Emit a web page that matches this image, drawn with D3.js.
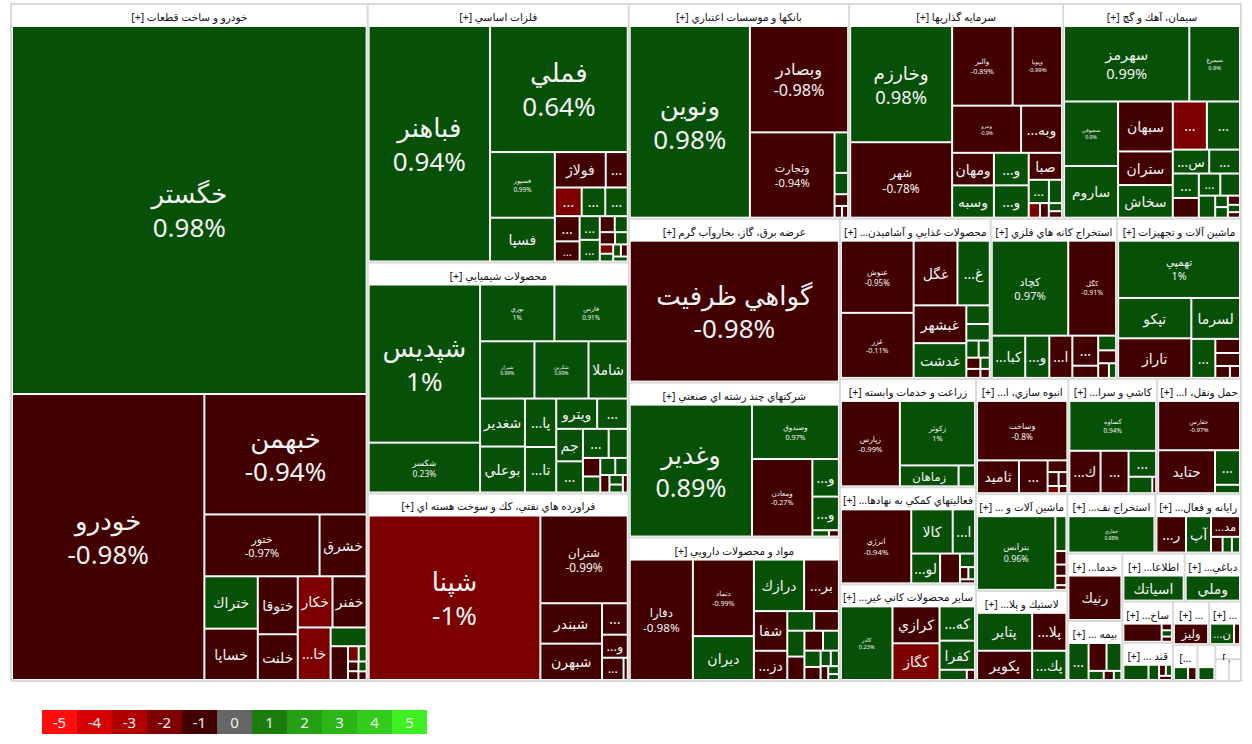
<!DOCTYPE html>
<html>
<head>
<meta charset="utf-8">
<script src="https://cdn.jsdelivr.net/npm/d3@7"></script>
<style>
  body { margin: 0; background: #fff; }
  svg { font-family: "Noto Sans", "DejaVu Sans", sans-serif; }
</style>
</head>
<body>
<svg id="chart" width="1252" height="744"></svg>
<script>
// sectors (market value, same unit for all)
const sectorNames = [
  "خودرو و ساخت قطعات", "فلزات اساسي", "محصولات شيميايي", "فراورده هاي نفتي، كك و سوخت هسته اي",
  "بانكها و موسسات اعتباري", "سرمايه گذاريها", "سيمان، آهك و گچ", "عرضه برق، گاز، بخاروآب گرم",
  "شركتهاي چند رشته اي صنعتي", "مواد و محصولات دارويي", "محصولات غذايي و آشاميدني به جز قند و شكر",
  "استخراج كانه هاي فلزي", "ماشين آلات و تجهيزات", "زراعت و خدمات وابسته",
  "فعاليتهاي كمكي به نهادهاي مالي واسط", "ساير محصولات كاني غيرفلزي", "انبوه سازي، املاك و مستغلات",
  "كاشي و سراميك", "حمل ونقل، انبارداري و ارتباطات", "ماشين آلات و دستگاههاي برقي", "لاستيك و پلاستيك",
  "استخراج نفت گاز و خدمات جنبي جز اكتشاف", "رايانه و فعاليت‌هاي وابسته به آن", "خدمات فني و مهندسي",
  "بيمه وصندوق بازنشستگي به جزتامين اجتماعي", "اطلاعات و ارتباطات", "دباغي، پرداخت چرم و ساخت انواع پاپوش",
  "ساخت محصولات فلزي", "قند و شكر", "ساير واسطه گريهاي مالي", "منسوجات", "محصولات كاغذي",
  "هتل و رستوران", "محصولات چوبي", "توليد محصولات كامپيوتري الكترونيكي ونوري", "پيمانكاري صنعتي"
];
const sectorValues = [
  241350, 67469, 60291, 48938, 47297, 45903, 38181, 34604, 32705, 30279, 24160, 20240,
  19840, 14756, 13200, 13150, 10638, 10235, 9660, 8827, 8236, 5222, 5074, 3706,
  3297, 2993, 2708, 2079, 1931, 1575, 1386, 880, 640, 360, 300, 260
];

// stocks of each sector: names, relative weight inside the sector, change %
const stockNames = [
  ["خگستر","خودرو","خبهمن","ختور","خشرق","ختراك","خساپا","ختوقا","خلنت","خكار","خفنر","خاذين","خمحركه","خريخت","خزاميا","خمهر","خپارس","خرينگ","خموتور","خفولا"],
  ["فباهنر","فملي","فسپور","فسپا","فولاژ","فخوز","فجر","فاسمين","فنورد","فلامي","فروس","فگستر","فاما","فرود","فسرب","فكاوا","فافزا","فجهان","فپنتا","فرآور","فالوم","فزر"],
  ["شپديس","شكسر","نوري","فارس","شيراز","شكربن","شاملا","شغدير","بوعلي","پارسان","تاپيكو","ويترو","شفن","جم","شپاكسا","شصدف","شبريز","شلعاب","شسينا","شتوكا","شگل","شرنگي","شپترو","شنيلا","شكلر"],
  ["شپنا","شتران","شبندر","شبهرن","شنفت","ونفت","شپاس","شرانل"],
  ["ونوين","وبصادر","وتجارت","وپست","وكار","وسينا","وخاور","وپاسار"],
  ["وخارزم","شهر","والبر","وپويا","ونيرو","وبهمن","ومهان","وسبه","وبوعلي","وتوسم","صبا","وصنا","وسخت","وآتي","وسكاب","ورنا","وكغدير"],
  ["سهرمز","سيمرغ","سصوفي","ساروم","سبهان","ستران","سخاش","سفار","سشرق","سفانو","ساربيل","سدور","سبجنو","سكرد","سغرب","سيلام","سخزر","سقاين","سمازن","سدشت","سنير"],
  ["گواهي ظرفيت"],
  ["وغدير","وصندوق","ومعادن","وتوشه","وصنعت","وشمال","وسپهر"],
  ["دفارا","دتماد","ديران","درازك","بركت","شفا","دزهراوي","داروپخش","دسينا","دلر","دجابر","دكوثر","دعبيد","دالبر","دشيمي","دكيمي","دامين","ددام","دتوليد","دپارس"],
  ["غنوش","غزر","غگل","غشاذر","غبشهر","غدشت","غمارگ","غپينو","غبهنوش","غگرجي","غشهد","غسالم","غاذر","غپاك"],
  ["كچاد","كگل","كبافق","ومعدن","اميد","كاما","كدما","كنور","كرماشا","كمنگنز","كسرا"],
  ["تهمپي","تپكو","تاراز","لسرما","تكشا","تشتاد","كمينا","لكما","تايرا"],
  ["زپارس","زكوثر","زماهان","زشريف"],
  ["انرژي","كالا","اوراق","لوتوس","اطلس","افران","اخابر","اعتماد","اسپاد"],
  ["كاذر","كرازي","كگاز","كهمدا","كفرا","كسعدي","كخاك"],
  ["وساخت","ثاميد","ثمسكن","ثشرق","ثبهساز","ثنوسا","ثعمرا","ثاصفا"],
  ["كساوه","كپارس","كحافظ","كسرام","كمرجان","كتوكا"],
  ["حفارس","حتايد","حكشتي","حپترو"],
  ["بترانس","بموتو","بشهاب","بپاس","بنيرو","بالبر"],
  ["پتاير","پكوير","پلاسك","پكرمان"],
  ["حفاري"],
  ["رتكو","آپ","مداران","سيستم","رانفور","ماهان"],
  ["رنيك"],
  ["البرز","ودانا","اتكاي","وآسيا","ومعلم","وكوثر"],
  ["اسياتك"],
  ["وملي"],
  ["فنرژي","فلوله","فجام","فاذر"],
  ["قثابت","قشكر","قنيشا","قهكمت","قمرو"],
  ["وليز"],
  ["نساجي","نمرينو"],
  ["چكارن","چفيبر"],
  ["گپارس"],
  ["چوكا","چدشت"],
  ["مرقام","تمپكو"],
  ["بكاب","خصدرا"]
];
const stockWeights = [
  [128466,54150,19234,7015,2867,2754,2700,2280,1800,1750,1720,1700,665,578,160,120,100,90,80,70],
  [27500,16700,4092,2728,1734,750,740,650,620,600,480,460,420,230,200,180,150,120,100,90,80,70],
  [16500,5200,3950,3900,2916,2900,2106,2016,1932,1419,1333,1161,868,812,780,700,520,300,260,240,200,150,120,100,80],
  [27221,7387,2400,2160,780,572,462,90],
  [22230,10088,6970,532,280,154,84,70],
  [11058,7178,4500,3675,3036,1804,1270,1260,1056,1050,840,440,286,153,120,100,80],
  [8470,3430,3120,2500,2450,1650,1600,1470,1428,780,660,570,460,425,391,323,130,120,100,80,60],
  [30000],
  [15351,4500,4450,950,850,100,60],
  [7200,4425,2537,2450,1700,1254,924,500,460,420,380,350,300,250,200,150,120,100,80,60],
  [4970,4480,2684,1980,1887,1734,414,368,200,180,150,120,100,80],
  [6900,4324,1344,966,924,738,300,250,220,150,100],
  [6264,2650,2600,1786,840,312,288,156,108],
  [4675,4500,1140,320],
  [5092,1794,966,841,580,200,100,80,60],
  [3600,1650,1640,1155,980,264,80],
  [5278,1353,924,228,150,120,80,60],
  [4080,1247,1118,675,368,60],
  [3696,2236,792,192],
  [5550,372,144,120,100,50],
  [1855,1431,1155,891],
  [2890],
  [884,748,493,150,120,105],
  [2295],
  [648,435,360,120,80,60],
  [1600],
  [1400],
  [648,64,60,50],
  [285,120,56,50,40],
  [544],
  [320,80],
  [180,108],
  [100],
  [60,40],
  [50,40],
  [40,30]
];
const stockChanges = [
  [0.98,-0.98,-0.94,-0.97,-0.9,0.9,-0.9,-0.9,-0.9,-1.2,-0.9,-1.3,0.8,-0.9,-1.1,0.6,-0.9,-0.8,0.5,-0.7],
  [0.94,0.64,0.99,0.9,-0.9,-0.9,-1.3,0.8,0.7,-0.9,-0.9,0.8,0.6,-0.5,0.4,-0.7,0.5,-1.1,0.3,0.5,-0.4,0.3],
  [1,0.23,1,0.91,0.99,0.99,0.8,0.7,0.6,0.5,0.6,0.7,0.4,0.5,0.6,0.3,0.4,-0.9,0.5,0.6,0.4,-0.8,0.5,0.3,-0.6],
  [-1,-0.99,-0.9,-0.9,-0.9,-0.9,-0.9,-0.8],
  [0.98,-0.98,-0.94,0.8,0.7,-0.9,-0.9,-0.9],
  [0.98,-0.78,-0.89,-0.99,-0.9,-0.9,-0.9,0.8,0.7,0.8,-0.9,0.7,0.6,-1.2,-0.9,0.5,-0.8],
  [0.99,0.9,0.9,0.8,-0.9,-0.9,0.8,-1.2,0.7,0.8,0.6,0.7,-0.9,0.7,0.6,0.8,0.5,0.6,-0.9,0.4,-0.8],
  [-0.98],
  [0.89,0.97,-0.27,0.8,0.7,0.6,-0.8],
  [-0.98,-0.99,0.8,0.8,-0.9,-0.9,-0.9,0.7,-0.9,0.6,-0.9,-0.8,0.7,0.5,-0.9,0.6,0.4,-0.7,0.5,0.3],
  [-0.95,-0.11,-0.97,0.8,-0.9,0.8,0.7,0.6,0.5,0.7,-0.9,-0.8,0.4,-0.6],
  [0.97,-0.91,0.8,0.7,-0.9,-0.9,-0.9,0.6,-0.8,-0.9,0.5],
  [1,0.9,-0.98,0.8,0.7,-0.9,-0.9,-0.9,-0.9],
  [-0.99,1,0.8,0.7],
  [-0.94,0.8,0.7,0.8,-0.9,0.6,-0.9,0.5,-0.8],
  [0.23,-0.9,-1.1,0.8,0.7,0.6,-0.9],
  [-0.8,-0.9,-0.9,-0.9,-0.9,-0.9,-1.2,-0.8],
  [0.94,-0.9,-0.9,0.7,0.6,-0.9],
  [-0.97,-0.9,0.8,0.7],
  [0.96,0.8,-0.9,-0.9,-0.9,-0.9],
  [0.8,-0.9,-0.9,0.7],
  [0.98],
  [-0.9,0.8,-0.9,-0.9,0.7,0.6],
  [-0.99],
  [0.8,-0.9,0.7,0.6,-0.9,0.5],
  [0.8],
  [0.8],
  [-0.9,-0.9,0.6,-0.8],
  [0.8,0.7,-0.9,0.6,-0.8],
  [-0.9],
  [0.7,-0.9],
  [0.6,-0.9],
  [0.5],
  [0.5,-0.8],
  [0.6,-0.9],
  [-0.9,0.5]
];

// legend
const legendSteps = [-5, -4, -3, -2, -1, 0, 1, 2, 3, 4, 5];
const legendColors = ["#ff0d0d","#d60000","#b00000","#800000","#420000","#666666","#1c7c0c","#25a012","#2cb616","#33cc1c","#3ef01f"];

const W = 1232, H = 679;
const svg = d3.select("#chart");

function cellColor(v) {
  if (v === 0) return legendColors[5];
  if (v > 0) return v <= 1 ? "#075007" : legendColors[5 + Math.min(5, Math.ceil(v))];
  if (v > -1) return "#420000";
  if (v > -2) return "#7c0000";
  return legendColors[5 - Math.min(5, Math.floor(-v) + 1)];
}
const fmtPct = v => (+v.toFixed(2)) + "%";

const data = {
  name: "root",
  children: sectorNames.map((s, i) => {
    const tot = d3.sum(stockWeights[i]);
    return {
      name: s,
      children: stockNames[i].map((n, j) => ({
        name: n,
        value: sectorValues[i] * stockWeights[i][j] / tot,
        change: stockChanges[i][j]
      }))
    };
  })
};

const root = d3.hierarchy(data)
  .sum(d => d.children ? 0 : d.value)
  .sort((a, b) => b.value - a.value);

d3.treemap()
  .size([W, H])
  .tile(d3.treemapSquarify.ratio(1))
  .paddingInner(2)
  .paddingTop(d => d.depth === 0 ? 2 : 22)
  .paddingRight(d => d.depth === 0 ? 2 : 1)
  .paddingBottom(d => d.depth === 0 ? 2 : 1)
  .paddingLeft(d => d.depth === 0 ? 2 : 1)(root);

const map = svg.append("g").attr("transform", "translate(10,3)");

map.append("rect")
  .attr("width", W).attr("height", H)
  .attr("fill", "#d9d9d9");

const defs = svg.append("defs");

// sectors
const sectors = map.selectAll("g.sector")
  .data(root.children)
  .join("g")
  .attr("class", "sector");

sectors.append("rect")
  .attr("x", d => d.x0).attr("y", d => d.y0)
  .attr("width", d => d.x1 - d.x0).attr("height", d => d.y1 - d.y0)
  .attr("fill", "#fff");

sectors.each(function(d, i) {
  defs.append("clipPath").attr("id", "sc" + i)
    .append("rect")
    .attr("x", d.x0).attr("y", d.y0)
    .attr("width", d.x1 - d.x0).attr("height", 22);
});

function fitText(sel, full, suffix, maxW) {
  sel.text(full + suffix);
  if (sel.node().getComputedTextLength() <= maxW) return true;
  for (let n = full.length - 1; n >= 0; n--) {
    sel.text(full.slice(0, n) + "..." + suffix);
    if (sel.node().getComputedTextLength() <= maxW) return true;
  }
  return false;
}

sectors.append("text")
  .attr("clip-path", (d, i) => "url(#sc" + i + ")")
  .attr("x", d => (d.x0 + d.x1) / 2)
  .attr("y", d => d.y0 + 12)
  .attr("text-anchor", "middle")
  .attr("dominant-baseline", "central")
  .style("direction", "rtl")
  .attr("font-size", 10.5)
  .attr("fill", "#111")
  .each(function(d) {
    const t = d3.select(this), maxW = d.x1 - d.x0 - 4;
    if (!fitText(t, d.data.name, " [+]", maxW)) {
      t.style("direction", "ltr").text("[...");
      if (this.getComputedTextLength() > maxW) t.text("");
    }
  });

// stocks
const leaves = root.leaves();
const cells = map.selectAll("g.cell")
  .data(leaves)
  .join("g")
  .attr("class", "cell");

cells.append("rect")
  .attr("x", d => d.x0).attr("y", d => d.y0)
  .attr("width", d => Math.max(0, d.x1 - d.x0))
  .attr("height", d => Math.max(0, d.y1 - d.y0))
  .attr("fill", d => cellColor(d.data.change));

cells.each(function(d, i) {
  const g = d3.select(this);
  const w = d.x1 - d.x0, h = d.y1 - d.y0, area = w * h;
  const cx = (d.x0 + d.x1) / 2, cy = (d.y0 + d.y1) / 2;
  defs.append("clipPath").attr("id", "cc" + i)
    .append("rect").attr("x", d.x0).attr("y", d.y0).attr("width", w).attr("height", h);

  if (area >= 2800 && w >= 40 && h >= 30) {
    const fs = Math.max(5, Math.min(26, area / 620, h / 2.9));
    g.append("text")
      .attr("clip-path", "url(#cc" + i + ")")
      .attr("x", cx).attr("y", cy - fs * 0.64)
      .attr("text-anchor", "middle").attr("dominant-baseline", "central")
      .style("direction", "rtl")
      .attr("font-size", fs).attr("fill", "#f4f4f4")
      .text(d.data.name);
    g.append("text")
      .attr("clip-path", "url(#cc" + i + ")")
      .attr("x", cx).attr("y", cy + fs * 0.66)
      .attr("text-anchor", "middle").attr("dominant-baseline", "central")
      .attr("font-size", fs).attr("fill", "#f4f4f4")
      .text(fmtPct(d.data.change));
  } else if (w >= 18 && h >= 18) {
    const fs = Math.min(14, h * 0.62);
    const t = g.append("text")
      .attr("clip-path", "url(#cc" + i + ")")
      .attr("x", cx).attr("y", cy)
      .attr("text-anchor", "middle").attr("dominant-baseline", "central")
      .style("direction", "rtl")
      .attr("font-size", fs).attr("fill", "#f4f4f4");
    if (!fitText(t, d.data.name, "", w - 4)) t.text(d.data.name.slice(0, 1) + "...");
  }
});

// legend
const sw = 35;
const lx = d3.scaleBand().domain(legendSteps).range([42, 42 + sw * legendSteps.length]);
const legend = svg.append("g").attr("transform", "translate(0,710)");
legend.selectAll("rect")
  .data(legendSteps)
  .join("rect")
  .attr("x", d => lx(d)).attr("y", 0)
  .attr("width", lx.bandwidth()).attr("height", 24)
  .attr("fill", (d, i) => legendColors[i]);
legend.selectAll("text")
  .data(legendSteps)
  .join("text")
  .attr("x", d => lx(d) + lx.bandwidth() / 2).attr("y", 12)
  .attr("text-anchor", "middle").attr("dominant-baseline", "central")
  .attr("font-size", 15).attr("fill", "#f0f0f0")
  .text(d => d);
</script>
</body>
</html>
